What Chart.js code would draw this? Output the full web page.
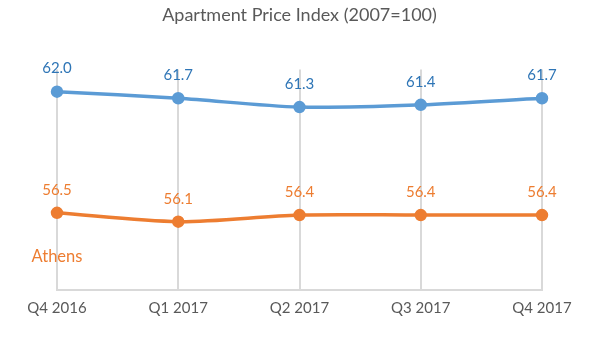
<!DOCTYPE html>
<html>
<head>
<meta charset="utf-8">
<script src="https://cdn.jsdelivr.net/npm/chart.js@4"></script>
<style>
  html, body { margin: 0; padding: 0; background: #fff; }
  #wrap { width: 600px; height: 364px; }
</style>
</head>
<body>
<div id="wrap"><canvas id="priceChart"></canvas></div>
<script>
const quarters = ['Q4 2016', 'Q1 2017', 'Q2 2017', 'Q3 2017', 'Q4 2017'];
const upperSeries = [62.0, 61.7, 61.3, 61.4, 61.7];
const athensSeries = [56.5, 56.1, 56.4, 56.4, 56.4];
const seriesNames = ['', 'Athens'];

const FONT = 'Lato, Carlito, "Open Sans", sans-serif';
const BLUE = '#5b9bd5';
const ORANGE = '#ed7d31';

// draws the value labels above points and the series name under the first point
const labelPlugin = {
    id: 'pointLabels',
    afterDatasetsDraw(chart) {
        const ctx = chart.ctx;
        ctx.save();
        ctx.textAlign = 'center';
        ctx.textBaseline = 'middle';
        chart.data.datasets.forEach((ds, i) => {
            const meta = chart.getDatasetMeta(i);
            ctx.fillStyle = ds.labelColor;
            ctx.font = '15px ' + FONT;
            meta.data.forEach((pt, j) => {
                ctx.fillText(ds.data[j].toFixed(1), pt.x, pt.y - 23);
            });
            if (seriesNames[i]) {
                const first = meta.data[0];
                ctx.font = '16.5px ' + FONT;
                ctx.fillText(seriesNames[i], first.x, first.y + 44);
            }
        });
        ctx.restore();
    }
};

new Chart(document.getElementById('priceChart'), {
    type: 'line',
    data: {
        labels: quarters,
        datasets: [
            {
                data: upperSeries,
                borderColor: BLUE,
                backgroundColor: BLUE,
                labelColor: '#2e75b6',
                borderWidth: 3.5,
                pointRadius: 4.5,
                tension: 0.3
            },
            {
                data: athensSeries,
                borderColor: ORANGE,
                backgroundColor: ORANGE,
                labelColor: ORANGE,
                borderWidth: 3.5,
                pointRadius: 4.5,
                tension: 0.3
            }
        ]
    },
    options: {
        responsive: true,
        maintainAspectRatio: false,
        animation: false,
        layout: { padding: { left: 57, right: 58, top: 0, bottom: 38 } },
        plugins: {
            legend: { display: false },
            tooltip: { enabled: false },
            title: {
                display: true,
                text: 'Apartment Price Index (2007=100)',
                color: '#595959',
                font: { family: FONT, size: 18, weight: 'normal' },
                padding: { top: 4, bottom: 44 }
            }
        },
        scales: {
            x: {
                offset: false,
                grid: { color: '#d9d9d9', lineWidth: 2, drawTicks: false },
                border: { color: '#d9d9d9', width: 2 },
                ticks: {
                    color: '#595959',
                    font: { family: FONT, size: 15 },
                    padding: 9,
                    maxRotation: 0
                }
            },
            y: {
                display: false,
                min: 53,
                max: 63
            }
        }
    },
    plugins: [labelPlugin]
});
</script>
</body>
</html>
